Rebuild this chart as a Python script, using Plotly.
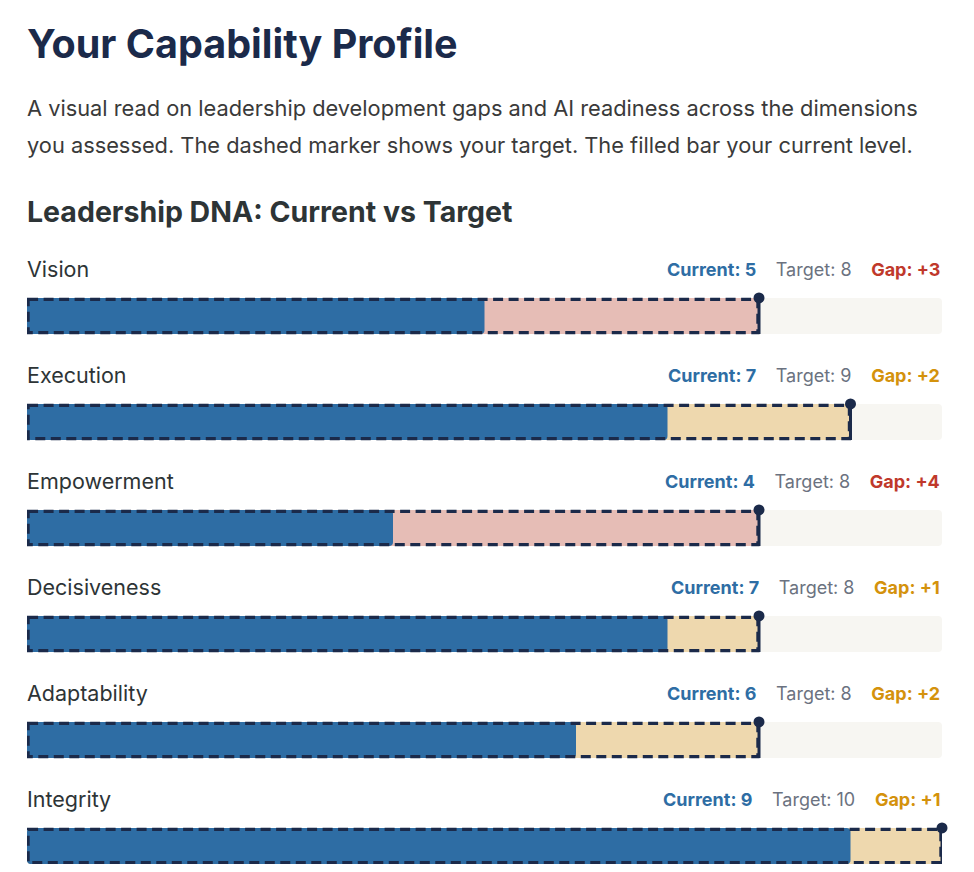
import plotly.graph_objects as go

dimensions = ["Vision", "Execution", "Empowerment", "Decisiveness", "Adaptability", "Integrity"]
current = [5, 7, 4, 7, 6, 9]
target = [8, 9, 8, 8, 8, 10]
scale_max = 10

title = "Your Capability Profile"
subtitle_lines = [
    "A visual read on leadership development gaps and AI readiness across the dimensions",
    "you assessed. The dashed marker shows your target. The filled bar your current level.",
]
section = "Leadership DNA: Current vs Target"

NAVY = "#1b2a4a"
BLUE = "#2e6da4"
TRACK = "#f7f6f2"
PINK = "#e6bdb6"
BEIGE = "#eed8ae"
GREY = "#6b7280"
RED = "#c0392b"
ORANGE = "#d4920c"
FONT = "Inter"

# page body margin offset (8px), figure sized to fit inside the 974x872 window
OFF = 8
W, H = 974 - 2 * OFF, 872 - 2 * OFF
row_px0, row_step = 316 - OFF, 106
y_top = -row_px0 / row_step
y_bot = (H - row_px0) / row_step
half = 0.17

rows = list(range(len(dimensions)))
gaps = [t - c for c, t in zip(current, target)]
gap_fill = [PINK if g >= 3 else BEIGE for g in gaps]
gap_text = [RED if g >= 3 else ORANGE for g in gaps]

fig = go.Figure()
fig.add_trace(go.Bar(orientation="h", y=rows, x=[scale_max] * len(rows), base=0,
                     width=2 * half, marker=dict(color=TRACK, line=dict(width=0)),
                     hoverinfo="skip", showlegend=False))
fig.add_trace(go.Bar(orientation="h", y=rows, x=target, base=0,
                     width=2 * half, marker=dict(color=gap_fill, line=dict(width=0)),
                     hoverinfo="skip", showlegend=False))
fig.add_trace(go.Bar(orientation="h", y=rows, x=current, base=0,
                     width=2 * half, marker=dict(color=BLUE, line=dict(width=0)),
                     hoverinfo="skip", showlegend=False))

for i, t in zip(rows, target):
    fig.add_shape(type="rect", xref="x", yref="y", x0=0.012, x1=t - 0.012, y0=i - half + 0.014, y1=i + half - 0.014,
                  line=dict(color=NAVY, width=3.2, dash="10px,5.5px"), fillcolor="rgba(0,0,0,0)",
                  layer="above")
    fig.add_trace(go.Scatter(x=[t, t], y=[i - half, i + half], mode="lines", cliponaxis=False,
                             line=dict(color=NAVY, width=3), hoverinfo="skip", showlegend=False))
    fig.add_trace(go.Scatter(x=[t], y=[i - half], mode="markers", cliponaxis=False,
                             marker=dict(color=NAVY, size=11), hoverinfo="skip", showlegend=False))

for i, name, c, t, g, gc in zip(rows, dimensions, current, target, gaps, gap_text):
    fig.add_annotation(xref="x", yref="y", x=0, y=i - 0.44, text=name, showarrow=False,
                       xanchor="left", yanchor="middle", xshift=-2,
                       font=dict(family=FONT, size=21.5, color="#2d3436"))
    txt = (f"<b><span style='color:{BLUE}'>Current: {c}</span></b>"
           f"<span style='color:{GREY}'>\u2003\u200aTarget: {t}\u2003\u200a</span>"
           f"<b><span style='color:{gc}'>Gap: +{g}</span></b>")
    fig.add_annotation(xref="x", yref="y", x=scale_max, y=i - 0.44, text=txt, showarrow=False,
                       xanchor="right", yanchor="middle",
                       font=dict(family=FONT, size=18, color=GREY))

fig.add_annotation(xref="paper", yref="paper", x=(25 - OFF) / W, y=1 - (44 - OFF) / H, text=f"<b>{title}</b>",
                   showarrow=False, xanchor="left", yanchor="middle",
                   font=dict(family=FONT, size=39.5, color=NAVY))
for k, line in enumerate(subtitle_lines):
    fig.add_annotation(xref="paper", yref="paper", x=(25 - OFF) / W, y=1 - (108 + 37 * k - OFF) / H, text=line,
                       showarrow=False, xanchor="left", yanchor="middle",
                       font=dict(family=FONT, size=21.8, color="#3a3a3a"))
fig.add_annotation(xref="paper", yref="paper", x=(25 - OFF) / W, y=1 - (211 - OFF) / H, text=f"<b>{section}</b>",
                   showarrow=False, xanchor="left", yanchor="middle",
                   font=dict(family=FONT, size=28.5, color="#2d3436"))

fig.update_layout(
    width=W, height=H, margin=dict(l=0, r=0, t=0, b=0),
    paper_bgcolor="white", plot_bgcolor="white",
    barmode="overlay", barcornerradius=4, showlegend=False,
    xaxis=dict(domain=[(27 - OFF) / W, (942 - OFF) / W], range=[0, scale_max], visible=False, fixedrange=True),
    yaxis=dict(domain=[0, 1], range=[y_bot, y_top], visible=False, fixedrange=True),
)

fig.write_html("out.html")
